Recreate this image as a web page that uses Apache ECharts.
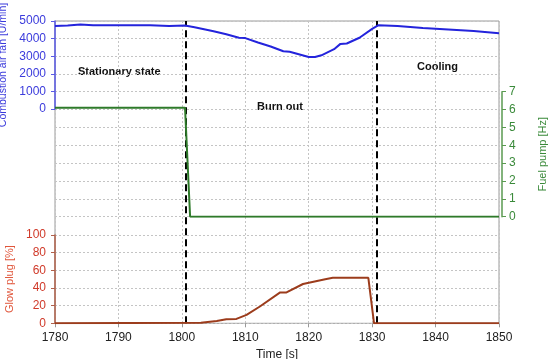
<!DOCTYPE html>
<html><head><meta charset="utf-8">
<script src="https://cdn.jsdelivr.net/npm/echarts@6/dist/echarts.min.js"></script>
<style>html,body{margin:0;padding:0;background:#fff}#c{width:550px;height:359px}</style>
</head><body><div id="c"></div>
<script>
const timeTicks = [1780,1790,1800,1810,1820,1830,1840,1850];
const fanTime = [1780,1782,1784,1786,1790,1795,1798,1800.5,1802,1805,1807,1809,1810,1812,1814,1816,1817,1819,1820,1821,1822,1824,1825,1826,1828,1830,1831,1834,1838,1842,1846,1850];
const fanValue = [4720,4740,4800,4760,4760,4760,4720,4740,4650,4420,4250,4050,4030,3780,3550,3280,3250,3050,2950,2950,3050,3400,3700,3720,4050,4550,4760,4720,4600,4520,4430,4300];
const pumpTime = [1780,1800.5,1801.3,1850];
const pumpValue = [6.1,6.1,0,0];
const glowTime = [1780,1803,1805.5,1807,1808.6,1810.2,1812.3,1815.5,1816.5,1819.1,1822.6,1823.8,1829.4,1830.3,1850];
const glowValue = [0,0.5,2.5,4.5,5,9.5,19,35,35,44.5,50,51.5,51.5,0,0];
const phaseBounds = [1800.6,1830.8];
const phaseLabels = ['Stationary state','Burn out','Cooling'];

const FONT = 'Liberation Sans';
const FS = 11;
const NFS = 10.5;
const L = 55, R = 51;
const zip = (a,b) => a.map((v,i)=>[v,b[i]]);
const hiddenX = i => ({gridIndex:i,type:'value',min:1780,max:1850,interval:10,show:false});
const dotted = {show:true,lineStyle:{color:'#c4c4c4',type:[2,2],width:1}};
const plain = v => String(v);

const chart = echarts.init(document.getElementById('c'));
chart.setOption({
  animation:false,
  textStyle:{fontFamily:FONT},
  grid:[
    {left:L,right:R,top:21,height:88,outerBoundsMode:'none',containLabel:false},
    {left:L,right:R,top:91.7,height:125,outerBoundsMode:'none',containLabel:false},
    {left:L,right:R,top:235,height:88.3,outerBoundsMode:'none',containLabel:false},
    {left:L,right:R,top:21,height:302.3,show:true,borderColor:'#9a9a9a',borderWidth:1,outerBoundsMode:'none',containLabel:false}
  ],
  xAxis:[
    hiddenX(0),hiddenX(1),hiddenX(2),
    {gridIndex:3,type:'value',min:1780,max:1850,interval:10,
     axisLine:{show:false},
     axisTick:{show:true,length:4,lineStyle:{color:'#999'}},
     axisLabel:{color:'#222',fontSize:FS+1,fontFamily:FONT,margin:8,formatter:v=>timeTicks.includes(v)?String(v):''},
     splitLine:dotted,
     name:'Time [s]',nameLocation:'middle',nameGap:24,
     nameTextStyle:{color:'#222',fontSize:FS+1,fontFamily:FONT}}
  ],
  yAxis:[
    {gridIndex:0,type:'value',min:0,max:5000,interval:1000,position:'left',
     axisLine:{show:true,lineStyle:{color:'#5a5ae6',width:1.5}},
     axisTick:{show:true,length:4,lineStyle:{color:'#5a5ae6'}},
     axisLabel:{color:'#3b3bdc',fontSize:FS+1,fontFamily:FONT,margin:9,formatter:plain},
     splitLine:dotted,
     name:'Combustion air fan [U/min]',nameLocation:'middle',nameGap:43,
     nameTextStyle:{color:'#3b3bdc',fontSize:NFS,fontFamily:FONT}},
    {gridIndex:1,type:'value',min:0,max:7,interval:1,position:'right',offset:3,
     axisLine:{show:true,lineStyle:{color:'#5a9a50',width:1.5}},
     axisTick:{show:true,length:4,lineStyle:{color:'#5a9a50'}},
     axisLabel:{color:'#3a8a3a',fontSize:FS+1,fontFamily:FONT,margin:7,formatter:plain},
     splitLine:dotted,
     name:'Fuel pump [Hz]',nameLocation:'middle',nameGap:35,
     nameTextStyle:{color:'#3a8a3a',fontSize:FS,fontFamily:FONT}},
    {gridIndex:2,type:'value',min:0,max:100,interval:20,position:'left',
     axisLine:{show:true,lineStyle:{color:'#b0604a',width:1.5}},
     axisTick:{show:true,length:4,lineStyle:{color:'#b0604a'}},
     axisLabel:{color:'#d03a2a',fontSize:FS+1,fontFamily:FONT,margin:9,formatter:plain},
     splitLine:dotted,
     name:'Glow plug [%]',nameLocation:'middle',nameGap:40,
     nameTextStyle:{color:'#e0553a',fontSize:FS,fontFamily:FONT}},
    {gridIndex:3,type:'value',min:0,max:1,show:false}
  ],
  series:[
    {type:'line',xAxisIndex:0,yAxisIndex:0,data:zip(fanTime,fanValue),showSymbol:false,
     lineStyle:{color:'#2424dc',width:2},z:5},
    {type:'line',xAxisIndex:1,yAxisIndex:1,data:zip(pumpTime,pumpValue),showSymbol:false,
     lineStyle:{color:'#2e7a2a',width:2},z:5},
    {type:'line',xAxisIndex:2,yAxisIndex:2,data:zip(glowTime,glowValue),showSymbol:false,
     lineStyle:{color:'#9c3c1c',width:2},z:5},
    {type:'line',xAxisIndex:3,yAxisIndex:3,data:[],z:6,
     markLine:{silent:true,symbol:'none',label:{show:false},
       lineStyle:{color:'#000',type:[7,4],width:2},
       data:phaseBounds.map(v=>({xAxis:v}))}}
  ],
  graphic:[
    {type:'text',left:78,top:66,style:{text:phaseLabels[0],font:'bold 11px "Liberation Sans"',fill:'#111'}},
    {type:'text',left:257,top:101,style:{text:phaseLabels[1],font:'bold 11px "Liberation Sans"',fill:'#111'}},
    {type:'text',left:417,top:61,style:{text:phaseLabels[2],font:'bold 11px "Liberation Sans"',fill:'#111'}}
  ]
});
</script></body></html>
